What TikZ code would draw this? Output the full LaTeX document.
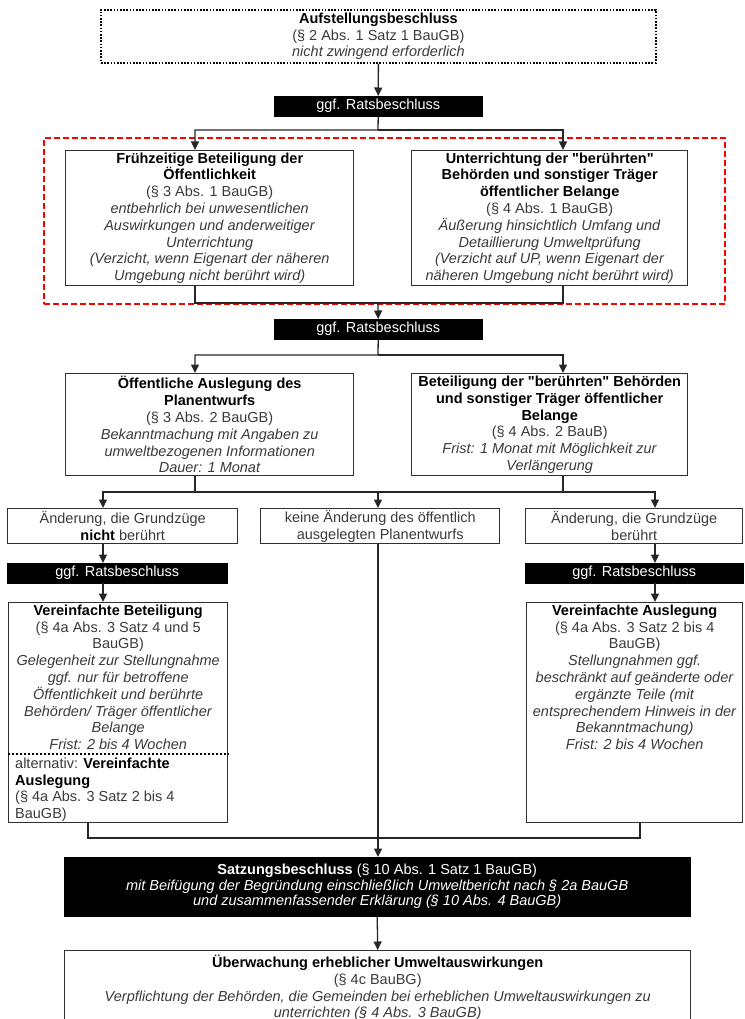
\documentclass[tikz,border=0pt]{standalone}
\usepackage{fontspec}
\setmainfont{Liberation Sans}
\usetikzlibrary{arrows.meta,calc}
\definecolor{tg}{HTML}{3A3A3A}
\definecolor{bd}{HTML}{303030}
\newcommand{\myhead}[1]{\textcolor{black}{\textbf{#1}}}
\newcommand{\dq}{\textquotedbl}
\begin{document}
\begin{tikzpicture}[x=1pt,y=-1pt,
  every node/.style={font=\fontsize{14.5}{16.8}\selectfont, text=tg},
  box/.style={draw=bd, line width=1.4pt, rectangle, inner sep=0pt, anchor=north west, align=center},
  blk/.style={fill=black, draw=black, text=white, rectangle, inner sep=0pt, anchor=north west, align=center},
  txt/.style={inner sep=0pt, align=center, anchor=north},
  con/.style={draw=black!85, line width=1.3pt},
  arr/.style={con, -{Triangle[length=8.5pt,width=8pt]}},
]
\useasboundingbox (0,0) rectangle (744,1019);

% column coordinates
\coordinate (cL) at (195,0);
\coordinate (cR) at (563,0);
\coordinate (cA) at (103,0);
\coordinate (cC) at (655,0);
\coordinate (cV) at (88,0);
\coordinate (cW) at (640,0);
\coordinate (j1) at (378,130);
\coordinate (j2) at (378,303);
\coordinate (j3) at (378,355);
\coordinate (j4) at (378,492);
\coordinate (j5) at (378,838);
\coordinate (sep) at (0,754);

% red dashed group
\node[draw=red, dash pattern=on 6pt off 3pt, line width=1.8pt, rectangle, inner sep=0pt, anchor=north west,
      minimum width=681pt, minimum height=166pt] (grp) at (43,137) {};

% top box
\node[box, draw=black, dash pattern=on 1.6pt off 1.6pt, line width=1.8pt, minimum width=555pt, minimum height=53pt] (aufst) at (100,9)
 {\myhead{Aufstellungsbeschluss}\\(§ 2 Abs. 1 Satz 1 BauGB)\\\textit{nicht zwingend erforderlich}};

\node[blk, minimum width=208pt, minimum height=20pt] (rats1) at (274,96) {ggf. Ratsbeschluss};

\node[box, minimum width=288pt, minimum height=135pt] (l1) at (65,150)
 {\myhead{Frühzeitige Beteiligung der}\\\myhead{Öffentlichkeit}\\(§ 3 Abs. 1 BauGB)\\
  \textit{entbehrlich bei unwesentlichen}\\\textit{Auswirkungen und anderweitiger}\\\textit{Unterrichtung}\\
  \textit{(Verzicht, wenn Eigenart der näheren}\\\textit{Umgebung nicht berührt wird)}};

\node[box, minimum width=276pt, minimum height=135pt] (r1) at (411,150)
 {\myhead{Unterrichtung der \dq berührten\dq}\\\myhead{Behörden und sonstiger Träger}\\\myhead{öffentlicher Belange}\\(§ 4 Abs. 1 BauGB)\\
  \textit{Äußerung hinsichtlich Umfang und}\\\textit{Detaillierung Umweltprüfung}\\
  \textit{(Verzicht auf UP, wenn Eigenart der}\\\textit{näheren Umgebung nicht berührt wird)}};

\node[blk, minimum width=208pt, minimum height=20pt] (rats2) at (274,319) {ggf. Ratsbeschluss};

\node[box, minimum width=288pt, minimum height=102pt] (l2) at (65,373)
 {\myhead{Öffentliche Auslegung des}\\\myhead{Planentwurfs}\\(§ 3 Abs. 2 BauGB)\\
  \textit{Bekanntmachung mit Angaben zu}\\\textit{umweltbezogenen Informationen}\\\textit{Dauer: 1 Monat}};

\node[box, minimum width=276pt, minimum height=102pt] (r2) at (411,373)
 {\myhead{Beteiligung der \dq berührten\dq\ Behörden}\\\myhead{und sonstiger Träger öffentlicher}\\\myhead{Belange}\\(§ 4 Abs. 2 BauB)\\
  \textit{Frist: 1 Monat mit Möglichkeit zur}\\\textit{Verlängerung}};

\node[box, minimum width=230pt, minimum height=35pt] (a) at (7,508)
 {Änderung, die Grundzüge\\\myhead{nicht} berührt};
\node[box, minimum width=239pt, minimum height=35pt] (b) at (260,508)
 {keine Änderung des öffentlich\\ausgelegten Planentwurfs};
\node[box, minimum width=217pt, minimum height=35pt] (c) at (525,508)
 {Änderung, die Grundzüge\\berührt};

\node[blk, minimum width=220pt, minimum height=20pt] (ratsL) at (7,563) {ggf. Ratsbeschluss};
\node[blk, minimum width=218pt, minimum height=20pt] (ratsR) at (525,563) {ggf. Ratsbeschluss};

\node[box, minimum width=219pt, minimum height=220pt] (vb) at (8,602) {};
\node[txt] (vbt) at ([yshift=-2.5pt]vb.north)
 {\myhead{Vereinfachte Beteiligung}\\(§ 4a Abs. 3 Satz 4 und 5\\BauGB)\\
  \textit{Gelegenheit zur Stellungnahme}\\\textit{ggf. nur für betroffene}\\\textit{Öffentlichkeit und berührte}\\
  \textit{Behörden/ Träger öffentlicher}\\\textit{Belange}\\\textit{Frist: 2 bis 4 Wochen}};
\draw[draw=black, line width=2pt, dash pattern=on 2pt off 2pt] (vb.west |- sep) -- (vb.east |- sep);
\node[txt, anchor=north west, align=left] (vbalt) at ([xshift=7pt,yshift=-3.5pt]vb.west |- sep)
 {alternativ: \myhead{Vereinfachte}\\\myhead{Auslegung}\\(§ 4a Abs. 3 Satz 2 bis 4\\BauGB)};

\node[box, minimum width=216pt, minimum height=220pt] (va) at (526,602) {};
\node[txt] (vat) at ([yshift=-2.5pt]va.north)
 {\myhead{Vereinfachte Auslegung}\\(§ 4a Abs. 3 Satz 2 bis 4\\BauGB)\\
  \textit{Stellungnahmen ggf.}\\\textit{beschränkt auf geänderte oder}\\\textit{ergänzte Teile (mit}\\
  \textit{entsprechendem Hinweis in der}\\\textit{Bekanntmachung)}\\\textit{Frist: 2 bis 4 Wochen}};

\node[blk, minimum width=626pt, minimum height=59pt, font=\fontsize{14.5}{15.5}\selectfont] (satz) at (64,857)
 {\textbf{Satzungsbeschluss} (§ 10 Abs. 1 Satz 1 BauGB)\\
  \textit{mit Beifügung der Begründung einschließlich Umweltbericht nach § 2a BauGB}\\
  \textit{und zusammenfassender Erklärung (§ 10 Abs. 4 BauGB)}};

\node[box, minimum width=626pt, minimum height=100pt] (ueb) at (64,950) {};
\node[txt] (uebt) at ([yshift=-5pt]ueb.north)
 {\myhead{Überwachung erheblicher Umweltauswirkungen}\\(§ 4c BauBG)\\
  \textit{Verpflichtung der Behörden, die Gemeinden bei erheblichen Umweltauswirkungen zu}\\
  \textit{unterrichten (§ 4 Abs. 3 BauGB)}};

% connectors
\draw[arr] (aufst.south) -- (rats1.north);
\draw[arr] (rats1.south) -- (j1) -| (cL |- l1.north);
\draw[arr] (j1) -| (cR |- r1.north);
\draw[con] (cL |- l1.south) |- (j2);
\draw[con] (cR |- r1.south) |- (j2);
\draw[arr] (j2) -- (rats2.north);
\draw[arr] (rats2.south) -- (j3) -| (cL |- l2.north);
\draw[arr] (j3) -| (cR |- r2.north);
\draw[con] (cL |- l2.south) |- (j4);
\draw[con] (cR |- r2.south) |- (j4);
\draw[arr] (j4) -| (cA |- a.north);
\draw[arr] (j4) -| (cC |- c.north);
\draw[arr] (j4) -- (j4 |- b.north);
\draw[arr] (cA |- a.south) -- (cA |- ratsL.north);
\draw[arr] (cA |- ratsL.south) -- (cA |- vb.north);
\draw[arr] (cC |- c.south) -- (cC |- ratsR.north);
\draw[arr] (cC |- ratsR.south) -- (cC |- va.north);
\draw[arr] (j4 |- b.south) -- (j4 |- satz.north);
\draw[con] (cV |- vb.south) |- (j5);
\draw[con] (cW |- va.south) |- (j5);
\draw[arr] (satz.south) -- (ueb.north);
\end{tikzpicture}
\end{document}
